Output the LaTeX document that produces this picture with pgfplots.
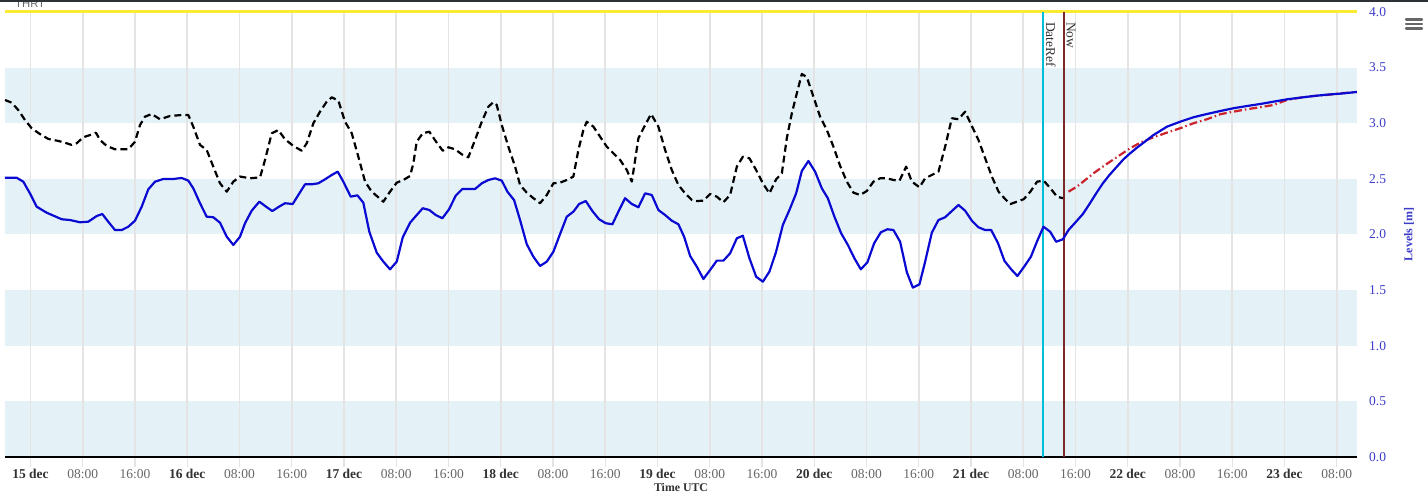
\documentclass[border=0pt]{standalone}
\usepackage{pgfplots}
\pgfplotsset{compat=1.18}
\usepackage{fontspec}
\setmainfont{Liberation Serif}
\newfontfamily\sansf{Liberation Sans}
\definecolor{band}{RGB}{228,242,248}
\definecolor{gridc}{RGB}{228,228,228}
\definecolor{obs}{RGB}{10,10,210}
\definecolor{fc}{RGB}{205,35,45}
\definecolor{dref}{RGB}{0,190,215}
\definecolor{nowc}{RGB}{125,40,40}
\definecolor{thrt}{RGB}{250,235,50}
\definecolor{ylab}{RGB}{60,60,200}
\definecolor{dcol}{RGB}{51,51,51}
\definecolor{tcol}{RGB}{102,102,102}
\definecolor{topbar}{RGB}{45,48,52}
\newcommand\D[1]{\textcolor{dcol}{\textbf{#1}}}
\newcommand\T[1]{\textcolor{tcol}{#1}}
\begin{document}
\begin{tikzpicture}
\begin{axis}[
  at={(0pt,0pt)}, anchor=south west,
  scale only axis, width=1352pt, height=445pt,
  set layers, clip=false,
  xmin=-3.9, xmax=203.1, ymin=0, ymax=4,
  axis x line*=bottom, axis y line*=right,
  x axis line style={black, line width=2pt, -},
  y axis line style={draw=none},
  xtick={0,8,...,200},
  xticklabels={\D{15 dec},\T{08:00},\T{16:00},\D{16 dec},\T{08:00},\T{16:00},\D{17 dec},\T{08:00},\T{16:00},\D{18 dec},\T{08:00},\T{16:00},\D{19 dec},\T{08:00},\T{16:00},\D{20 dec},\T{08:00},\T{16:00},\D{21 dec},\T{08:00},\T{16:00},\D{22 dec},\T{08:00},\T{16:00},\D{23 dec},\T{08:00}},
  xtick style={draw=gridc, line width=1.2pt},
  major tick length=10pt, tick align=outside,
  ytick={0,0.5,1,1.5,2,2.5,3,3.5,4},
  ytick style={draw=none},
  yticklabel style={anchor=west, inner sep=0pt, xshift=2pt, text=ylab, /pgf/number format/.cd, fixed, fixed zerofill, precision=1},
  /pgf/number format/assume math mode=true,
  xticklabel style={anchor=base, inner sep=0pt, yshift=-11.5pt},
  tick label style={font=\fontsize{13.5}{16}\selectfont},
  xmajorgrids, grid style={draw=gridc, line width=1.6pt},
  xlabel={Time UTC},
  every axis x label/.style={at={(axis description cs:0.5,0)}, anchor=center, yshift=-30.7pt, font=\fontsize{11.8}{14}\selectfont\bfseries, text=dcol},
  ylabel={Levels [m]},
  every axis y label/.style={at={(axis description cs:1,0.5)}, xshift=52pt, rotate=90, anchor=center, font=\fontsize{12}{14}\selectfont\bfseries, text=ylab},
]
\begin{pgfonlayer}{axis background}
\fill[band] (axis cs:-3.9,0) rectangle (axis cs:203.1,0.5);
\fill[band] (axis cs:-3.9,1) rectangle (axis cs:203.1,1.5);
\fill[band] (axis cs:-3.9,2) rectangle (axis cs:203.1,2.5);
\fill[band] (axis cs:-3.9,3) rectangle (axis cs:203.1,3.5);
\end{pgfonlayer}
\draw[thrt, line width=3pt] (axis cs:-3.9,4) -- (axis cs:203.1,4);
\draw[dref, line width=2.2pt] (axis cs:155.0,0) -- (axis cs:155.0,4);
\draw[nowc, line width=2.2pt] (axis cs:158.2,0) -- (axis cs:158.2,4);
\node[rotate=-90, anchor=base west, inner sep=0pt, font=\fontsize{13.5}{16}\selectfont, text=dcol] at ([xshift=3.2pt,yshift=-10pt]axis cs:155.0,4) {DateRef};
\node[rotate=-90, anchor=base west, inner sep=0pt, font=\fontsize{13.5}{16}\selectfont, text=dcol] at ([xshift=2.8pt,yshift=-10pt]axis cs:158.2,4) {Now};

% black dashed: model hindcast
\addplot[black, line width=2.2pt, dash pattern=on 7pt off 4pt, line join=round] coordinates {
(-3.9,3.209) (-2.88,3.185) (-1.87,3.119) (-0.84,3.029) (0.18,2.955) (1.45,2.903) (2.73,2.859) (4.26,2.841) (5.28,2.825) (6.31,2.805) (7.07,2.82) (8.09,2.874) (9.11,2.894) (10.03,2.915) (10.64,2.85) (11.67,2.796) (12.94,2.766) (14.98,2.766) (16.0,2.834) (16.77,2.984) (17.53,3.059) (18.56,3.083) (19.83,3.036) (21.36,3.065) (23.15,3.074) (24.17,3.074) (24.93,2.969) (25.96,2.805) (26.98,2.76) (27.99,2.61) (29.02,2.46) (30.05,2.385) (31.06,2.475) (32.08,2.521) (33.61,2.505) (35.15,2.514) (35.91,2.67) (36.94,2.91) (37.95,2.939) (38.97,2.856) (40.25,2.796) (41.53,2.753) (42.3,2.82) (43.31,3.0) (44.33,3.104) (45.36,3.194) (46.13,3.233) (47.14,3.203) (48.16,3.014) (49.19,2.91) (50.2,2.699) (51.23,2.475) (52.25,2.385) (53.26,2.334) (54.03,2.295) (55.05,2.385) (56.08,2.466) (57.09,2.49) (58.12,2.526) (58.62,2.64) (59.14,2.834) (60.06,2.91) (61.07,2.924) (62.1,2.834) (63.12,2.753) (63.98,2.784) (65.01,2.766) (66.03,2.721) (67.04,2.694) (68.07,2.85) (69.1,3.014) (70.11,3.149) (70.87,3.189) (71.39,3.164) (72.16,2.984) (73.17,2.789) (74.2,2.61) (74.96,2.445) (75.99,2.376) (77.0,2.326) (78.02,2.281) (79.05,2.355) (80.06,2.46) (81.09,2.466) (82.11,2.49) (83.12,2.52) (83.89,2.76) (84.65,2.939) (85.17,3.014) (86.19,2.969) (87.21,2.879) (88.24,2.789) (89.25,2.73) (90.28,2.67) (91.3,2.58) (92.07,2.475) (93.08,2.865) (94.11,2.984) (95.02,3.083) (96.14,2.969) (97.17,2.76) (98.19,2.58) (99.2,2.445) (100.23,2.37) (101.26,2.31) (102.02,2.301) (103.03,2.304) (104.06,2.364) (105.08,2.34) (106.09,2.29) (107.12,2.355) (108.15,2.61) (109.07,2.699) (110.08,2.685) (111.1,2.58) (112.13,2.46) (113.14,2.37) (114.16,2.496) (115.04,2.55) (115.8,2.865) (116.57,3.09) (117.33,3.269) (118.1,3.443) (118.87,3.413) (119.88,3.239) (120.9,3.059) (121.93,2.939) (122.94,2.789) (123.97,2.616) (124.99,2.475) (126.0,2.376) (127.03,2.355) (128.05,2.391) (129.07,2.475) (130.09,2.505) (131.12,2.505) (132.13,2.49) (133.05,2.484) (134.07,2.61) (134.95,2.475) (136.11,2.424) (136.98,2.505) (138.0,2.535) (139.02,2.565) (140.04,2.789) (141.07,3.045) (142.08,3.036) (143.1,3.104) (144.13,2.975) (145.14,2.85) (146.17,2.685) (147.2,2.52) (148.22,2.385) (149.25,2.317) (150.02,2.274) (151.04,2.295) (152.07,2.317) (153.09,2.385) (154.12,2.475) (155.13,2.484) (156.16,2.415) (157.18,2.34) (158.07,2.326)
};

% red dash-dot: forecast model
\addplot[fc, line width=2.2pt, dash pattern=on 8pt off 3pt on 1.5pt off 3pt, line join=round] coordinates {
(158.93,2.385) (160.21,2.43) (161.49,2.49) (162.76,2.55) (164.04,2.604) (165.31,2.655) (166.84,2.715) (168.37,2.775) (169.9,2.825) (171.94,2.874) (173.98,2.915) (176.03,2.955) (178.07,3.0) (180.12,3.036) (182.16,3.081) (184.2,3.104) (186.25,3.126) (188.28,3.144) (190.32,3.164) (192.37,3.209) (194.41,3.23) (196.45,3.245) (198.5,3.254) (200.53,3.269) (203.09,3.281)
};

% blue solid: observed / forecast level
\addplot[obs, line width=2.2pt, line join=round] coordinates {
(-3.9,2.51) (-2.11,2.51) (-1.10,2.475) (-0.08,2.37) (0.95,2.25) (2.48,2.196) (4.78,2.137) (6.05,2.13) (7.58,2.11) (8.85,2.115) (10.14,2.166) (11.0,2.184) (11.91,2.115) (12.94,2.04) (13.97,2.04) (14.98,2.07) (16.0,2.124) (17.03,2.25) (18.04,2.406) (19.07,2.475) (20.34,2.499) (21.87,2.499) (23.15,2.508) (24.17,2.484) (24.93,2.415) (25.96,2.281) (26.98,2.16) (27.99,2.155) (29.02,2.106) (30.05,1.98) (31.06,1.906) (32.08,1.98) (32.85,2.101) (33.87,2.214) (35.04,2.295) (36.06,2.25) (37.03,2.211) (38.06,2.25) (38.97,2.281) (40.15,2.274) (41.01,2.355) (42.04,2.451) (43.06,2.451) (44.07,2.46) (45.10,2.496) (46.13,2.535) (47.04,2.565) (47.9,2.475) (49.03,2.34) (50.05,2.352) (50.96,2.286) (51.88,2.025) (53.02,1.836) (54.03,1.756) (55.05,1.687) (56.08,1.756) (57.0,1.975) (58.12,2.106) (59.14,2.175) (60.06,2.236) (61.07,2.22) (62.05,2.175) (63.06,2.146) (64.09,2.227) (65.11,2.349) (66.13,2.409) (68.07,2.409) (69.1,2.46) (70.11,2.49) (71.13,2.505) (72.16,2.484) (73.02,2.385) (74.04,2.31) (74.96,2.13) (75.99,1.912) (77.0,1.8) (78.02,1.717) (79.05,1.756) (80.06,1.845) (81.09,2.005) (82.11,2.16) (83.12,2.205) (84.0,2.274) (85.02,2.301) (86.03,2.211) (87.06,2.137) (88.09,2.101) (89.1,2.092) (90.01,2.205) (91.04,2.326) (92.07,2.274) (93.08,2.245) (94.11,2.37) (95.13,2.355) (96.14,2.22) (97.17,2.175) (98.19,2.124) (99.2,2.092) (100.08,1.98) (101.0,1.807) (102.02,1.711) (103.03,1.6) (104.06,1.681) (105.08,1.765) (106.09,1.765) (107.12,1.831) (108.15,1.966) (109.07,1.989) (110.08,1.786) (111.1,1.621) (112.13,1.576) (113.14,1.666) (114.16,1.845) (115.19,2.085) (116.2,2.22) (117.23,2.37) (118.1,2.571) (119.11,2.661) (120.13,2.565) (121.16,2.415) (122.08,2.326) (123.09,2.16) (124.12,2.011) (125.15,1.906) (126.15,1.786) (127.13,1.687) (128.14,1.75) (129.17,1.921) (130.2,2.02) (131.2,2.047) (132.13,2.04) (133.15,1.935) (134.18,1.66) (135.1,1.522) (136.11,1.552) (136.98,1.756) (138.0,2.016) (139.02,2.13) (140.04,2.155) (141.07,2.211) (142.08,2.265) (143.1,2.214) (144.13,2.124) (145.14,2.065) (146.17,2.04) (147.09,2.04) (148.11,1.926) (149.13,1.762) (150.15,1.687) (151.11,1.627) (152.14,1.711) (153.17,1.8) (154.09,1.935) (155.1,2.07) (156.12,2.025) (157.04,1.935) (158.07,1.957) (158.93,2.04) (159.95,2.106) (161.13,2.184) (162.14,2.274) (163.17,2.37) (164.19,2.46) (165.2,2.535) (166.34,2.61) (167.35,2.676) (168.37,2.73) (169.4,2.78) (170.41,2.825) (171.94,2.894) (174.0,2.969) (176.03,3.014) (178.07,3.054) (180.12,3.083) (182.16,3.11) (184.2,3.135) (186.25,3.155) (188.28,3.173) (190.32,3.194) (192.37,3.215) (194.41,3.23) (196.45,3.245) (198.5,3.257) (200.53,3.266) (203.09,3.281)
};
\end{axis}
\node[anchor=base west, inner sep=0pt, font=\sansf\fontsize{11.3}{13}\selectfont, text=tcol] at (10pt,449pt) {THRT};
\fill[topbar] (-5pt,454.5pt) rectangle (1423pt,457pt);
\foreach \yy in {437.5,433.2,428.5}
  \draw[line width=2.3pt, color=tcol, line cap=round] (1401pt,\yy pt) -- (1417pt,\yy pt);
\pgfresetboundingbox
\useasboundingbox (-5pt,-40pt) rectangle (1423pt,457pt);
\end{tikzpicture}
\end{document}
